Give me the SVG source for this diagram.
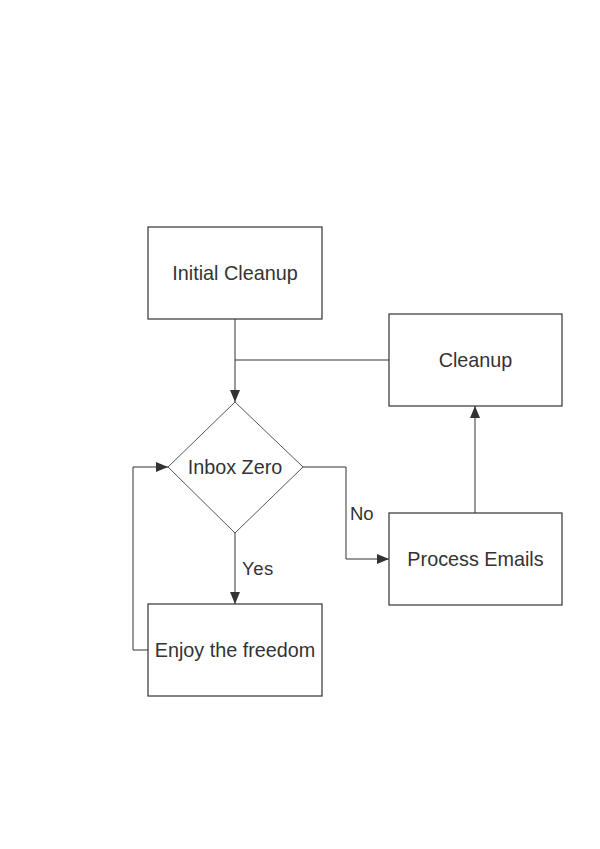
<svg xmlns="http://www.w3.org/2000/svg" width="600" height="849" viewBox="0 0 600 849">
<style>
.n{fill:#fff;stroke:#333;stroke-width:1.2}
.d{fill:#fff;stroke:#555;stroke-width:1}
.t{font-family:"Liberation Sans",Arial,sans-serif;font-size:19.8px;fill:#333;text-anchor:middle;dominant-baseline:central}
.l{font-family:"Liberation Sans",Arial,sans-serif;font-size:18.5px;fill:#333}
.c{fill:none;stroke:#333;stroke-width:1}
</style>
<defs>
<marker id="a" markerWidth="12" markerHeight="10" refX="12" refY="5" orient="auto" markerUnits="userSpaceOnUse">
<path d="M0,0 L12,5 L0,10 Z" fill="#333"/>
</marker>
</defs>
<rect width="600" height="849" fill="#fff"/>
<g id="connectors">
<path class="c" d="M235,319 V402" marker-end="url(#a)"/>
<path class="c" d="M389,360 H235"/>
<path class="c" d="M303,467 H346 V559 H389" marker-end="url(#a)"/>
<path class="c" d="M235,533 V604" marker-end="url(#a)"/>
<path class="c" d="M475,513 V406" marker-end="url(#a)"/>
<path class="c" d="M148,650 H133 V467 H168" marker-end="url(#a)"/>
<text class="l" x="350" y="520">No</text>
<text class="l" x="242" y="575" letter-spacing="0.5">Yes</text>
</g>
<g id="initial-cleanup">
<rect class="n" x="148" y="227" width="174" height="92"/>
<text class="t" x="235" y="273">Initial Cleanup</text>
</g>
<g id="cleanup">
<rect class="n" x="389" y="314" width="173" height="92"/>
<text class="t" x="475.5" y="360">Cleanup</text>
</g>
<g id="inbox-zero">
<path class="d" d="M235,402 L303,467 L235,533 L168,467 Z"/>
<text class="t" x="235" y="467">Inbox Zero</text>
</g>
<g id="process-emails">
<rect class="n" x="389" y="513" width="173" height="92"/>
<text class="t" x="475.5" y="559">Process Emails</text>
</g>
<g id="enjoy">
<rect class="n" x="148" y="604" width="174" height="92"/>
<text class="t" x="235" y="650">Enjoy the freedom</text>
</g>
</svg>
